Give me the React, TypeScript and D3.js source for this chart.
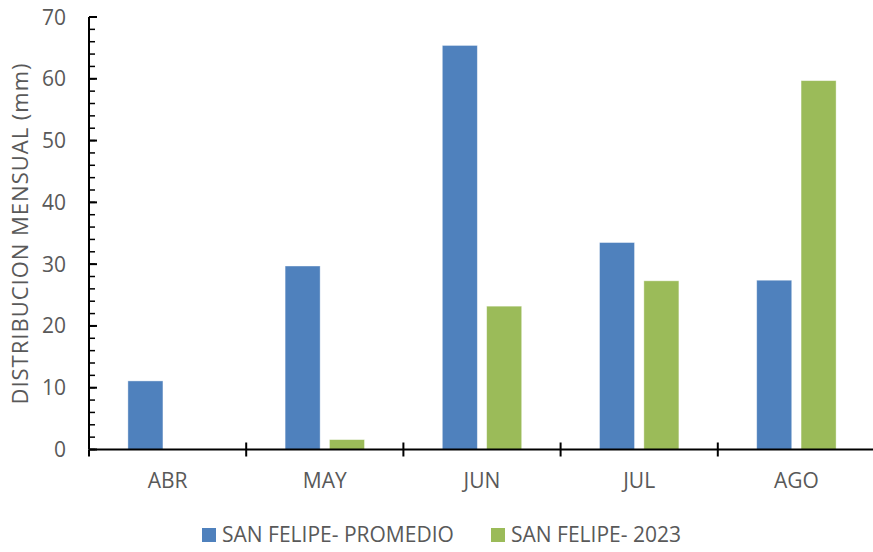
import React from "react";
import * as d3 from "d3";

const categories = ["ABR", "MAY", "JUN", "JUL", "AGO"];
const promedio = [11.1, 29.7, 65.4, 33.5, 27.4];
const y2023 = [null, 1.6, 23.2, 27.3, 59.7];
const seriesNames = ["SAN FELIPE- PROMEDIO", "SAN FELIPE- 2023"];
const yTicks = [0, 10, 20, 30, 40, 50, 60, 70];
const yMinor = d3.range(0, 71, 2);

const W = 873, H = 552;
const left = 89, right = 875, top = 17, bottom = 449.5;
const FONT = "'Open Sans', sans-serif";
const TXT = "#595959";
const colors = ["#4F81BD", "#9BBB59"];

export default function App() {
  const x = d3.scaleBand().domain(categories).range([left, right]);
  const y = d3.scaleLinear().domain([0, 70]).range([bottom, top]);
  const inner = d3.scaleBand().domain(["0", "1"]).range([0, 79.4]).paddingInner(0.21);
  const series = [promedio, y2023];
  return (
    <svg width={W} height={H} style={{ position: "absolute", left: 0, top: 0, background: "#fff" }}>
      {series.map((vals, si) =>
        categories.map((c, i) => {
          const v = vals[i];
          if (v == null) return null;
          const cx = (x(c) as number) + x.bandwidth() / 2 - 39.7;
          const bx = cx + (inner(String(si)) as number);
          return (
            <rect key={si + "-" + c} x={bx} y={y(v)} width={inner.bandwidth()} height={y(0) - y(v)}
              fill={colors[si]} stroke="#ffffff" strokeOpacity={0.5} strokeWidth={0.8} />
          );
        })
      )}
      {/* y axis */}
      <line x1={left} x2={left} y1={top} y2={bottom} stroke="#000" strokeWidth={2} />
      {yMinor.map((t) => (
        <line key={"m" + t} x1={left} x2={left + 6} y1={y(t)} y2={y(t)} stroke="#000" strokeWidth={1.5} />
      ))}
      {yTicks.map((t) => (
        <g key={t}>
          <line x1={left} x2={left + 8} y1={y(t)} y2={y(t)} stroke="#000" strokeWidth={2} />
          <text x={66} y={y(t)} dy="0.36em" textAnchor="end" fontFamily={FONT} fontSize={21} fill={TXT}>{t}</text>
        </g>
      ))}
      {/* x axis */}
      <line x1={left} x2={right} y1={bottom} y2={bottom} stroke="#000" strokeWidth={2} />
      {categories.map((c, i) => (
        <g key={c}>
          {i > 0 && <line x1={x(c)} x2={x(c)} y1={bottom - 7} y2={bottom + 7} stroke="#000" strokeWidth={2} />}
          <text x={(x(c) as number) + x.bandwidth() / 2} y={488} textAnchor="middle" fontFamily={FONT} fontSize={21} fill={TXT}>{c}</text>
        </g>
      ))}
      <line x1={left} x2={left} y1={bottom} y2={bottom + 7} stroke="#000" strokeWidth={2} />
      {/* axis title */}
      <text transform={`translate(28,233.5) rotate(-90)`} textAnchor="middle" fontFamily={FONT} fontSize={22} letterSpacing={1} fill={TXT}>
        DISTRIBUCION MENSUAL (mm)
      </text>
      {/* legend */}
      <rect x={202} y={528} width={14} height={14} fill={colors[0]} />
      <text x={222} y={542} fontFamily={FONT} fontSize={21} fill={TXT}>{seriesNames[0]}</text>
      <rect x={491} y={528} width={14} height={14} fill={colors[1]} />
      <text x={511} y={542} fontFamily={FONT} fontSize={21} fill={TXT}>{seriesNames[1]}</text>
    </svg>
  );
}
